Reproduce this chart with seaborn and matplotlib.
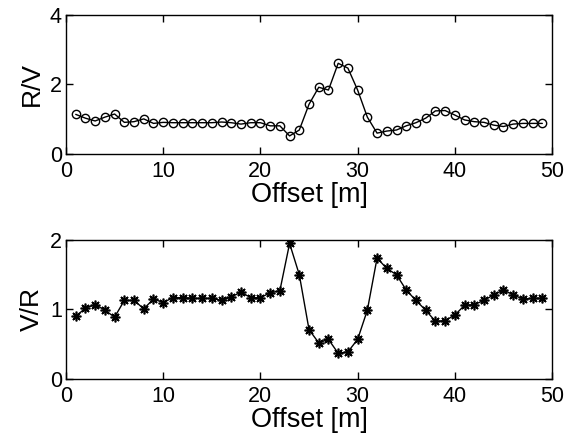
import numpy as np
import pandas as pd
import matplotlib
matplotlib.use("Agg")
import matplotlib.pyplot as plt
import seaborn as sns

# offsets of the measurement points [m]
offset = [1, 2, 3, 4, 5, 6, 7, 8, 9, 10,
          11, 12, 13, 14, 15, 16, 17, 18, 19, 20,
          21, 22, 23, 24, 25, 26, 27, 28, 29, 30,
          31, 32, 33, 34, 35, 36, 37, 38, 39, 40,
          41, 42, 43, 44, 45, 46, 47, 48, 49]

# R/V ratio (top panel)
rv = [1.14, 1.03, 0.95, 1.06, 1.15, 0.91, 0.93, 1.01, 0.88, 0.91,
      0.90, 0.90, 0.90, 0.90, 0.90, 0.92, 0.90, 0.86, 0.90, 0.90,
      0.81, 0.81, 0.52, 0.69, 1.43, 1.92, 1.84, 2.61, 2.47, 1.84,
      1.06, 0.60, 0.66, 0.69, 0.81, 0.90, 1.03, 1.24, 1.25, 1.12,
      0.98, 0.93, 0.91, 0.83, 0.79, 0.86, 0.88, 0.88, 0.88]

# V/R ratio (bottom panel)
vr = [0.90, 1.02, 1.07, 0.99, 0.89, 1.13, 1.13, 1.01, 1.15, 1.10,
      1.17, 1.17, 1.16, 1.16, 1.16, 1.13, 1.18, 1.25, 1.17, 1.17,
      1.24, 1.27, 1.95, 1.50, 0.71, 0.52, 0.57, 0.37, 0.39, 0.57,
      0.99, 1.74, 1.59, 1.50, 1.28, 1.13, 0.99, 0.83, 0.84, 0.92,
      1.06, 1.07, 1.13, 1.21, 1.28, 1.21, 1.15, 1.16, 1.16]

df = pd.DataFrame({"offset": offset, "rv": rv, "vr": vr})

sns.set_style("ticks")
plt.rcParams['font.family'] = ['Liberation Sans', 'DejaVu Sans']
plt.rcParams['xtick.direction'] = 'in'
plt.rcParams['ytick.direction'] = 'in'
plt.rcParams['text.color'] = 'black'
plt.rcParams['axes.labelcolor'] = 'black'
plt.rcParams['xtick.color'] = 'black'
plt.rcParams['ytick.color'] = 'black'

fig = plt.figure(figsize=(5.76, 4.43), dpi=100)
ax1 = fig.add_axes([0.1146, 0.6524, 0.8438, 0.3138])
ax2 = fig.add_axes([0.1146, 0.1445, 0.8438, 0.3138])

sns.lineplot(data=df, x="offset", y="rv", ax=ax1, color="black", lw=1,
             marker="o", markersize=6, markerfacecolor="none",
             markeredgecolor="black", markeredgewidth=1)
sns.lineplot(data=df, x="offset", y="vr", ax=ax2, color="black", lw=1,
             marker=(8, 2, 0), markersize=7, markeredgecolor="black",
             markeredgewidth=1.2)

for ax, lab, ylim, yt in [(ax1, "R/V", 4, [0, 2, 4]), (ax2, "V/R", 2, [0, 1, 2])]:
    ax.set_xlim(0, 50)
    ax.set_ylim(0, ylim)
    ax.set_xticks([0, 10, 20, 30, 40, 50])
    ax.set_yticks(yt)
    ax.set_xlabel("Offset [m]", fontsize=19.5, labelpad=0, color="black")
    ax.set_ylabel(lab, fontsize=19, labelpad=4, color="black")
    ax.tick_params(labelsize=15.5, top=True, right=True, length=5, width=1,
                   colors="black")
    ax.tick_params(axis="x", pad=5)
    ax.tick_params(axis="y", pad=3)
    for s in ax.spines.values():
        s.set_visible(True)
        s.set_linewidth(1)
        s.set_color("black")

fig.savefig("out.png", dpi=100)
